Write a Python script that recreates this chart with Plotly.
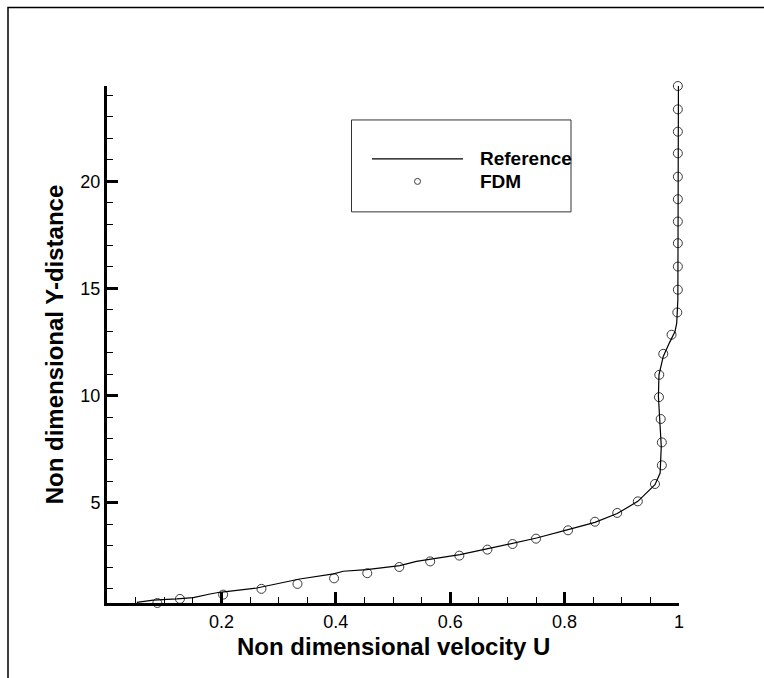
import plotly.graph_objects as go

# Reference velocity profile (solid line)
ref_u = [0.052, 0.081, 0.122, 0.151, 0.180, 0.197, 0.262, 0.337, 0.396, 0.413,
         0.454, 0.512, 0.541, 0.617, 0.664, 0.710, 0.751, 0.806, 0.853, 0.892,
         0.928, 0.958, 0.967, 0.969, 0.967, 0.964, 0.965, 0.9725, 0.983, 0.993,
         0.996, 0.998, 0.999]
ref_y = [0.36, 0.46, 0.52, 0.58, 0.75, 0.83, 1.03, 1.45, 1.69, 1.81,
         1.89, 2.07, 2.27, 2.59, 2.85, 3.13, 3.36, 3.75, 4.09, 4.50,
         5.07, 5.85, 6.39, 7.63, 8.88, 9.96, 10.97, 11.83, 12.45, 12.99,
         13.38, 14.47, 24.44]

# FDM solution (open circles)
fdm_u = [0.088, 0.1275, 0.203, 0.270, 0.333, 0.397, 0.455, 0.511, 0.565, 0.616,
         0.665, 0.709, 0.750, 0.806, 0.853, 0.892, 0.928, 0.958, 0.970, 0.970,
         0.968, 0.965, 0.9655, 0.9725, 0.987, 0.997, 0.998, 0.998, 0.998, 0.998,
         0.998, 0.998, 0.998, 0.998, 0.998, 0.998]
fdm_y = [0.33, 0.52, 0.72, 0.99, 1.22, 1.48, 1.72, 2.01, 2.27, 2.54,
         2.82, 3.08, 3.33, 3.72, 4.12, 4.53, 5.07, 5.88, 6.75, 7.82,
         8.91, 9.93, 10.97, 11.95, 12.84, 13.88, 14.94, 16.02, 17.11, 18.12,
         19.16, 20.21, 21.30, 22.31, 23.35, 24.44]

x_ticks = [0.2, 0.4, 0.6, 0.8, 1.0]
x_tick_text = ["0.2", "0.4", "0.6", "0.8", "1"]
y_ticks = [5, 10, 15, 20]
y_tick_text = ["5", "10", "15", "20"]

legend_names = ["Reference", "FDM"]
x_title = "Non dimensional velocity U"
y_title = "Non dimensional Y-distance"

W, H = 764, 678
ML, MR, MT, MB = 107, 85, 86, 74.5
PW, PH = W - ML - MR, H - MT - MB


def px(x):
    return (x - ML) / PW


def py(y):
    return (H - MB - y) / PH


FONT = "Liberation Sans, Arial, Helvetica, sans-serif"

fig = go.Figure()

fig.add_trace(go.Scatter(
    x=fdm_u, y=fdm_y, mode="markers", name=legend_names[1],
    marker=dict(symbol="circle-open", size=9, color="#3a3a3a",
                line=dict(width=1, color="#3a3a3a")),
    cliponaxis=False, showlegend=False,
))
fig.add_trace(go.Scatter(
    x=ref_u, y=ref_y, mode="lines", name=legend_names[0],
    line=dict(color="black", width=1.2),
    cliponaxis=False, showlegend=False,
))

axis_common = dict(
    showgrid=False, zeroline=False, showline=True, linecolor="black",
    linewidth=3, ticks="inside", tickcolor="black", tickwidth=3,
    ticklen=11, tickfont=dict(family=FONT, size=18, color="black"),
)

fig.update_xaxes(
    range=[0, 1], tickmode="array", tickvals=x_ticks, ticktext=x_tick_text,
    minor=dict(dtick=0.05, tick0=0, ticks="inside", ticklen=6, tickwidth=1,
               tickcolor="black"),
    **axis_common,
)
fig.update_yaxes(
    range=[0.33, 24.44], tickmode="array", tickvals=y_ticks,
    ticktext=y_tick_text,
    minor=dict(dtick=1, tick0=0, ticks="inside", ticklen=6, tickwidth=1,
               tickcolor="black"),
    title=dict(text="<b>%s</b>" % y_title, standoff=10,
               font=dict(family=FONT, size=24, color="black")),
    **axis_common,
)

shapes = [
    # outer frame
    dict(type="rect", xref="paper", yref="paper",
         x0=px(8), x1=px(780), y0=py(700), y1=py(7.5),
         line=dict(color="black", width=1.5), fillcolor="rgba(0,0,0,0)",
         layer="above"),
    # legend box
    dict(type="rect", xref="paper", yref="paper",
         x0=px(351.5), x1=px(571), y0=py(212), y1=py(120),
         line=dict(color="#333", width=1), fillcolor="white", layer="above"),
    # legend line sample
    dict(type="line", xref="paper", yref="paper",
         x0=px(372), x1=px(463), y0=py(159), y1=py(159),
         line=dict(color="black", width=1.2), layer="above"),
    # legend marker sample
    dict(type="circle", xref="paper", yref="paper",
         x0=px(414.5), x1=px(420.5), y0=py(184.5), y1=py(178.5),
         line=dict(color="#3a3a3a", width=1), layer="above"),
]

annotations = [
    # x axis title
    dict(text="<b>%s</b>" % x_title, xref="paper", yref="paper",
         x=0.5, y=py(632), xanchor="center", yanchor="top",
         showarrow=False, font=dict(family=FONT, size=24, color="black")),
    # legend entries
    dict(text="<b>%s</b>" % legend_names[0], xref="paper", yref="paper",
         x=px(478), y=py(159), xanchor="left", yanchor="middle",
         showarrow=False, font=dict(family=FONT, size=19, color="black")),
    dict(text="<b>%s</b>" % legend_names[1], xref="paper", yref="paper",
         x=px(478), y=py(182), xanchor="left", yanchor="middle",
         showarrow=False, font=dict(family=FONT, size=19, color="black")),
]

fig.update_layout(
    width=W, height=H,
    margin=dict(l=ML, r=MR, t=MT, b=MB),
    paper_bgcolor="white", plot_bgcolor="white",
    showlegend=False, shapes=shapes, annotations=annotations,
    font=dict(family=FONT, color="black"),
)

fig.write_html("out.html")
